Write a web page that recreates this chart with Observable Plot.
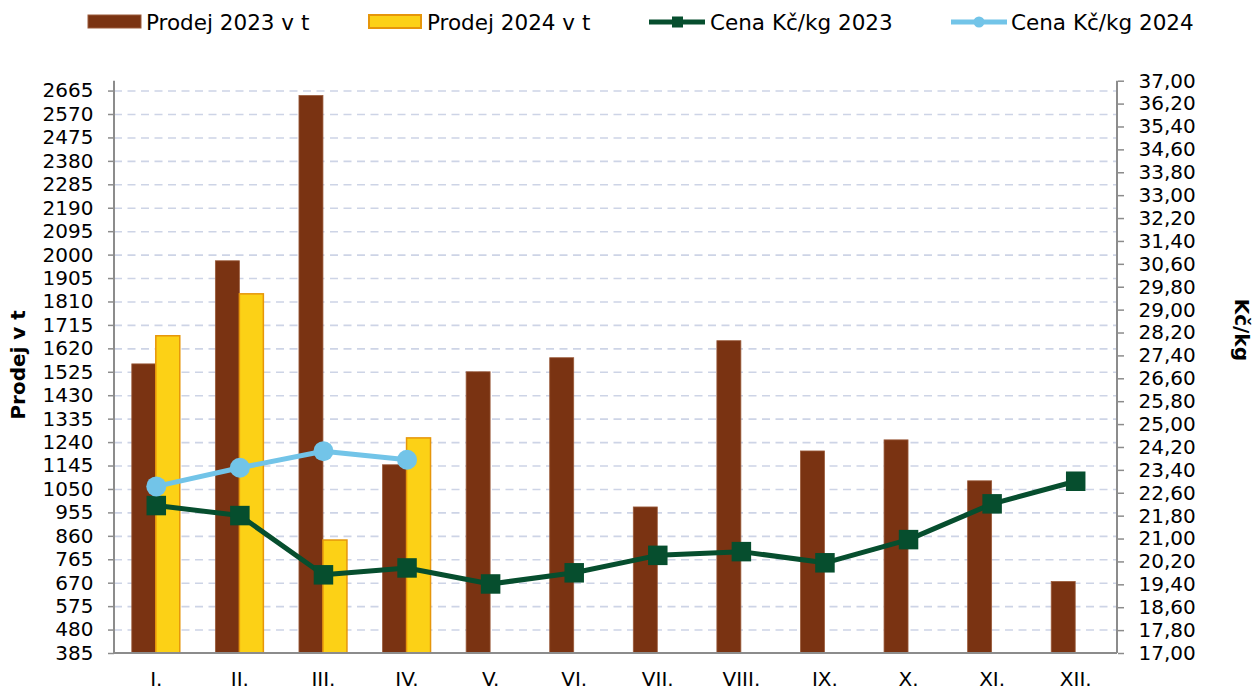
<!DOCTYPE html>
<html><head><meta charset="utf-8">
<script src="https://cdn.jsdelivr.net/npm/d3@7"></script>
<script src="https://cdn.jsdelivr.net/npm/@observablehq/plot@0.6"></script>
<style>
body{margin:0;background:#fff;}
#legend{height:45px;}
svg text{font-family:"DejaVu Sans";}
</style>
</head><body>
<div id="legend"></div>
<div id="chart"></div>
<script>
const months = ["I.","II.","III.","IV.","V.","VI.","VII.","VIII.","IX.","X.","XI.","XII."];
const sales2023 = [1557, 1975, 2645, 1148, 1525, 1582, 977, 1651, 1204, 1249, 1083, 675];
const sales2024 = [1671, 1841, 843, 1257];
const price2023 = [22.17, 21.82, 19.75, 19.99, 19.43, 19.82, 20.43, 20.56, 20.17, 20.98, 22.23, 23.02];
const price2024 = [22.84, 23.49, 24.07, 23.77];
const leftTicks = [385,480,575,670,765,860,955,1050,1145,1240,1335,1430,1525,1620,1715,1810,1905,2000,2095,2190,2285,2380,2475,2570,2665];
const rightTicks = [17.0,17.8,18.6,19.4,20.2,21.0,21.8,22.6,23.4,24.2,25.0,25.8,26.6,27.4,28.2,29.0,29.8,30.6,31.4,32.2,33.0,33.8,34.6,35.4,36.2,37.0];
const seriesNames = ["Prodej 2023 v t","Prodej 2024 v t","Cena Kč/kg 2023","Cena Kč/kg 2024"];
const leftTitle = "Prodej v t";
const rightTitle = "Kč/kg";

const C23 = "#7a3312", C24 = "#fcd116", C24s = "#e6960a", L23 = "#064e2e", L24 = "#72c4e8";
const Y_MIN = 385, Y_MAX = 2705, P_MIN = 17, P_MAX = 37;
const toLeft = p => Y_MIN + (p - P_MIN) * (Y_MAX - Y_MIN) / (P_MAX - P_MIN);
const fromLeft = v => P_MIN + (v - Y_MIN) * (P_MAX - P_MIN) / (Y_MAX - Y_MIN);

const bars23 = months.map((m, i) => ({m, v: sales2023[i]}));
const bars24 = sales2024.map((v, i) => ({m: months[i], v}));
const line23 = months.map((m, i) => ({m, p: price2023[i]}));
const line24 = price2024.map((p, i) => ({m: months[i], p}));

const frameLines = (index, scales, values, dims) => {
  const {width: w, height: h, marginLeft: l, marginRight: r, marginTop: t, marginBottom: b} = dims;
  const g = d3.create("svg:g");
  g.append("line").attr("x1", l).attr("x2", l).attr("y1", t).attr("y2", h - b).attr("stroke", "#8c8c8c").attr("stroke-width", 2);
  g.append("line").attr("x1", w - r).attr("x2", w - r).attr("y1", t).attr("y2", h - b).attr("stroke", "#8c8c8c").attr("stroke-width", 2);
  g.append("line").attr("x1", l).attr("x2", w - r).attr("y1", h - b).attr("y2", h - b).attr("stroke", "#8c8c8c").attr("stroke-width", 2);
  const cy = (t + h - b) / 2;
  g.append("text").text(leftTitle).attr("transform", `translate(${l - 89},${cy - 2}) rotate(-90)`)
    .attr("text-anchor", "middle").attr("font-weight", "bold").attr("font-size", 20).attr("fill", "#000");
  g.append("text").text(rightTitle).attr("transform", `translate(${w - r + 118},${cy - 37}) rotate(90)`)
    .attr("text-anchor", "middle").attr("font-weight", "bold").attr("font-size", 20).attr("fill", "#000");
  return g.node();
};

const plot = Plot.plot({
  width: 1255, height: 645,
  marginLeft: 114, marginRight: 138, marginTop: 35.7, marginBottom: 37,
  style: {fontFamily: "DejaVu Sans", fontSize: "20px", color: "#000", background: "#fff", overflow: "visible"},
  x: {type: "band", domain: months, padding: 0, round: false},
  y: {domain: [Y_MIN, Y_MAX]},
  marks: [
    Plot.gridY(leftTicks.filter(t => t > Y_MIN), {stroke: "#cdd4e6", strokeOpacity: 1, strokeWidth: 1.6, strokeDasharray: "8,5.5"}),
    Plot.barY(bars23, {x: "m", y1: Y_MIN, y2: "v", fill: C23, stroke: "#9a5a3a", strokeWidth: 0.8, insetLeft: 17.8, insetRight: 41.8}),
    Plot.barY(bars24, {x: "m", y1: Y_MIN, y2: "v", fill: C24, stroke: C24s, strokeWidth: 1.5, insetLeft: 41.8, insetRight: 17.8}),
    frameLines,
    Plot.line(line23, {x: "m", y: d => toLeft(d.p), stroke: L23, strokeWidth: 5}),
    Plot.dot(line23, {x: "m", y: d => toLeft(d.p), symbol: "square", r: 11, fill: L23}),
    Plot.line(line24, {x: "m", y: d => toLeft(d.p), stroke: L24, strokeWidth: 5}),
    Plot.dot(line24, {x: "m", y: d => toLeft(d.p), r: 10, fill: L24}),
    Plot.axisY({ticks: leftTicks, tickFormat: d => String(d), tickSize: 6, tickPadding: 15, label: null, stroke: "#8c8c8c", strokeWidth: 1.5}),
    Plot.axisY({anchor: "right", ticks: rightTicks.map(toLeft), tickFormat: d => fromLeft(d).toFixed(2).replace(".", ","), tickSize: 6, tickPadding: 15, label: null, stroke: "#8c8c8c", strokeWidth: 1.5}),
    Plot.axisX({tickSize: 0, tickPadding: 18, label: null})
  ]
});
document.getElementById("chart").appendChild(plot);

// Legend
const lg = d3.select("#legend").append("svg").attr("width", 1255).attr("height", 45);
const ly = 22;
lg.append("rect").attr("x", 88).attr("y", 15).attr("width", 53).attr("height", 13).attr("fill", C23).attr("stroke", "#9a5a3a").attr("stroke-width", 1);
lg.append("rect").attr("x", 369).attr("y", 15).attr("width", 52).attr("height", 13).attr("fill", C24).attr("stroke", C24s).attr("stroke-width", 2);
lg.append("line").attr("x1", 649).attr("x2", 705).attr("y1", ly).attr("y2", ly).attr("stroke", L23).attr("stroke-width", 5);
lg.append("rect").attr("x", 672).attr("y", ly - 5.5).attr("width", 11).attr("height", 11).attr("fill", L23);
lg.append("line").attr("x1", 951).attr("x2", 1007).attr("y1", ly).attr("y2", ly).attr("stroke", L24).attr("stroke-width", 5);
lg.append("circle").attr("cx", 979).attr("cy", ly).attr("r", 5.5).attr("fill", L24);
const lx = [146, 427, 710, 1011];
seriesNames.forEach((s, i) => {
  lg.append("text").attr("x", lx[i]).attr("y", 30).attr("font-size", 21.5).attr("fill", "#000").text(s);
});
</script>
</body></html>
